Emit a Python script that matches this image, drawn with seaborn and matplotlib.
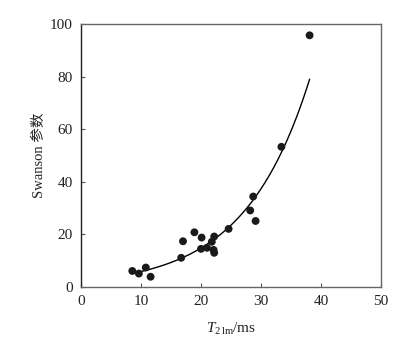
import numpy as np
import pandas as pd
import seaborn as sns
import matplotlib.pyplot as plt

# T2lm (ms) and Swanson parameter
t2lm = [8.55, 9.65, 10.8, 11.6, 16.7, 17.0, 18.9, 20.1, 20.0, 21.0,
        21.8, 22.2, 22.1, 22.2, 24.6, 28.2, 28.7, 29.1, 33.4, 38.1]
swanson = [6.1, 5.1, 7.4, 3.9, 11.1, 17.4, 20.8, 18.8, 14.5, 14.9,
           17.2, 19.2, 14.1, 13.0, 22.1, 29.1, 34.4, 25.1, 53.3, 95.7]

df = pd.DataFrame({"t2lm": t2lm, "swanson": swanson})

sns.set_style("ticks")
plt.rcParams["font.family"] = ["Liberation Serif", "Noto Sans CJK SC"]
plt.rcParams["mathtext.fontset"] = "custom"
plt.rcParams["mathtext.rm"] = "Liberation Serif"
plt.rcParams["mathtext.it"] = "Liberation Serif:italic"

fig = plt.figure(figsize=(4.14, 3.45), dpi=100)
ax = fig.add_axes([81 / 414, 1 - 287 / 345, 300 / 414, 263 / 345])

sns.scatterplot(data=df, x="t2lm", y="swanson", ax=ax, color="#1a1a1a",
                s=32, edgecolor="none", zorder=3)

# exponential trend line (least squares on ln y)
b, ln_a = np.polyfit(df["t2lm"], np.log(df["swanson"]), 1)
xs = np.linspace(df["t2lm"].min() + 0.4, df["t2lm"].max(), 200)
ax.plot(xs, np.exp(ln_a) * np.exp(b * xs), color="black", lw=1.0)

ax.set_xlim(0, 50)
ax.set_ylim(0, 100)
ax.set_xticks([0, 10, 20, 30, 40, 50])
ax.set_yticks([0, 20, 40, 60, 80, 100])
ax.tick_params(direction="in", length=3, width=0.8, labelsize=11,
               colors="#555555", labelcolor="#222222", pad=6)
for side in ["top", "right", "bottom"]:
    ax.spines[side].set_color("#666666")
ax.spines["left"].set_color("#222222")
for sp in ax.spines.values():
    sp.set_linewidth(1.0)

ax.set_xlabel(r"$T_{\mathrm{2\,lm}}$/ms", fontsize=11, labelpad=9, color="#222222")
ax.set_ylabel("Swanson 参数", fontsize=10.5, labelpad=3, color="#222222")

fig.savefig("out.png", dpi=100)
